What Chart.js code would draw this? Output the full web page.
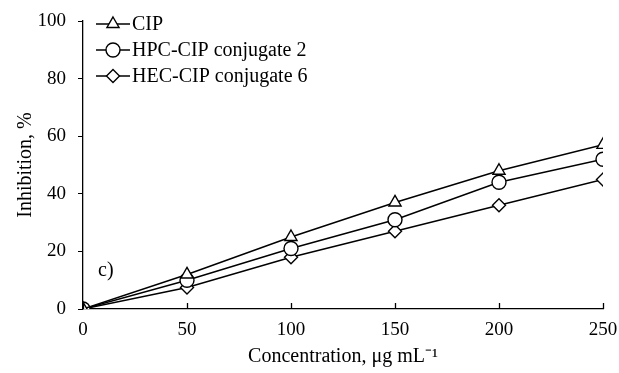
<!DOCTYPE html>
<html><head><meta charset="utf-8">
<script src="https://cdn.jsdelivr.net/npm/chart.js@4/dist/chart.umd.min.js"></script>
<style>html,body{margin:0;padding:0;background:#fff}#wrap{width:619px;height:373px}</style>
</head><body><div id="wrap"><canvas id="c" width="619" height="373"></canvas></div>
<script>
const concentrations = [0, 50, 100, 150, 200, 250];
const cip = [0, 12, 25, 37, 48, 57];
const hpc = [0, 10, 21, 31, 44, 52];
const hec = [0, 7.5, 18, 27, 36, 45];
const seriesNames = ["CIP", "HPC-CIP conjugate 2", "HEC-CIP conjugate 6"];
const xTicks = [0, 50, 100, 150, 200, 250];
const yTicks = [0, 20, 40, 60, 80, 100];

const FONT = "'Liberation Serif', 'Times New Roman', serif";
const styles = [
  {pointStyle: 'triangle', radius: 7},
  {pointStyle: 'circle', radius: 7},
  {pointStyle: 'rectRot', radius: 6.5}
];
const values = [cip, hpc, hec];
const datasets = values.map((v, i) => ({
  label: seriesNames[i],
  data: concentrations.map((x, j) => ({x: x, y: v[j]})),
  borderColor: '#000', borderWidth: 1.5,
  pointStyle: styles[i].pointStyle, pointRadius: styles[i].radius,
  pointBackgroundColor: '#fff', pointBorderColor: '#000', pointBorderWidth: 1.4,
  tension: 0, fill: false
}));

const extras = {
  id: 'extras',
  afterDraw(chart) {
    const ctx = chart.ctx;
    const xs = chart.scales.x, ys = chart.scales.y;
    ctx.save();
    // inward x ticks
    ctx.strokeStyle = '#000'; ctx.lineWidth = 1.3;
    xTicks.forEach(t => {
      const px = Math.round(xs.getPixelForValue(t)) + 0.5;
      ctx.beginPath(); ctx.moveTo(px, ys.bottom); ctx.lineTo(px, ys.bottom - 6); ctx.stroke();
    });
    // legend
    const lx0 = 96, lx1 = 130, ly = [24, 50, 76];
    chart.data.datasets.forEach((ds, i) => {
      ctx.strokeStyle = '#000'; ctx.lineWidth = 1.5;
      ctx.beginPath(); ctx.moveTo(lx0, ly[i]); ctx.lineTo(lx1, ly[i]); ctx.stroke();
      ctx.fillStyle = '#fff'; ctx.strokeStyle = '#000'; ctx.lineWidth = 1.4;
      Chart.helpers.drawPoint(ctx, {pointStyle: ds.pointStyle, radius: ds.pointRadius, borderWidth: 1.4, rotation: 0}, (lx0 + lx1) / 2, ly[i]);
      ctx.font = '20px ' + FONT; ctx.fillStyle = '#000'; ctx.textBaseline = 'middle';
      ctx.fillText(ds.label, 132, ly[i] + 1);
    });
    // panel label
    ctx.font = '20px ' + FONT; ctx.fillStyle = '#000'; ctx.textBaseline = 'middle';
    ctx.fillText('c)', 98, 271);
    ctx.restore();
  }
};

new Chart(document.getElementById('c'), {
  type: 'line',
  data: {datasets},
  options: {
    responsive: false, animation: false, devicePixelRatio: 1,
    layout: {padding: {left: 14, right: 16, top: 21, bottom: 0}},
    plugins: {legend: {display: false}, tooltip: {enabled: false}},
    scales: {
      x: {
        type: 'linear', min: 0, max: 250,
        afterBuildTicks: s => { s.ticks = xTicks.map(v => ({value: v})); },
        afterFit: s => { s.height = 64; s.paddingLeft = 0; s.paddingRight = 0; },
        grid: {display: true, drawOnChartArea: false, drawTicks: false},
        border: {display: true, color: '#000', width: 1.3},
        ticks: {color: '#000', font: {family: FONT, size: 19}, padding: 10, maxRotation: 0},
        title: {display: true, text: 'Concentration, μg mL⁻¹', color: '#000', font: {family: FONT, size: 20}, padding: {top: 0, bottom: 4}}
      },
      y: {
        type: 'linear', min: 0, max: 100,
        afterBuildTicks: s => { s.ticks = yTicks.map(v => ({value: v})); },
        afterFit: s => { s.width = 69; s.paddingTop = 0; s.paddingBottom = 0; },
        grid: {display: true, drawOnChartArea: false, drawTicks: true, tickLength: 5, color: '#000', tickColor: '#000'},
        border: {display: true, color: '#000', width: 1.3},
        ticks: {color: '#000', font: {family: FONT, size: 19}, padding: 12},
        title: {display: true, text: 'Inhibition, %', color: '#000', font: {family: FONT, size: 20}, padding: {top: 0, bottom: 0}}
      }
    }
  },
  plugins: [extras]
});
</script></body></html>
